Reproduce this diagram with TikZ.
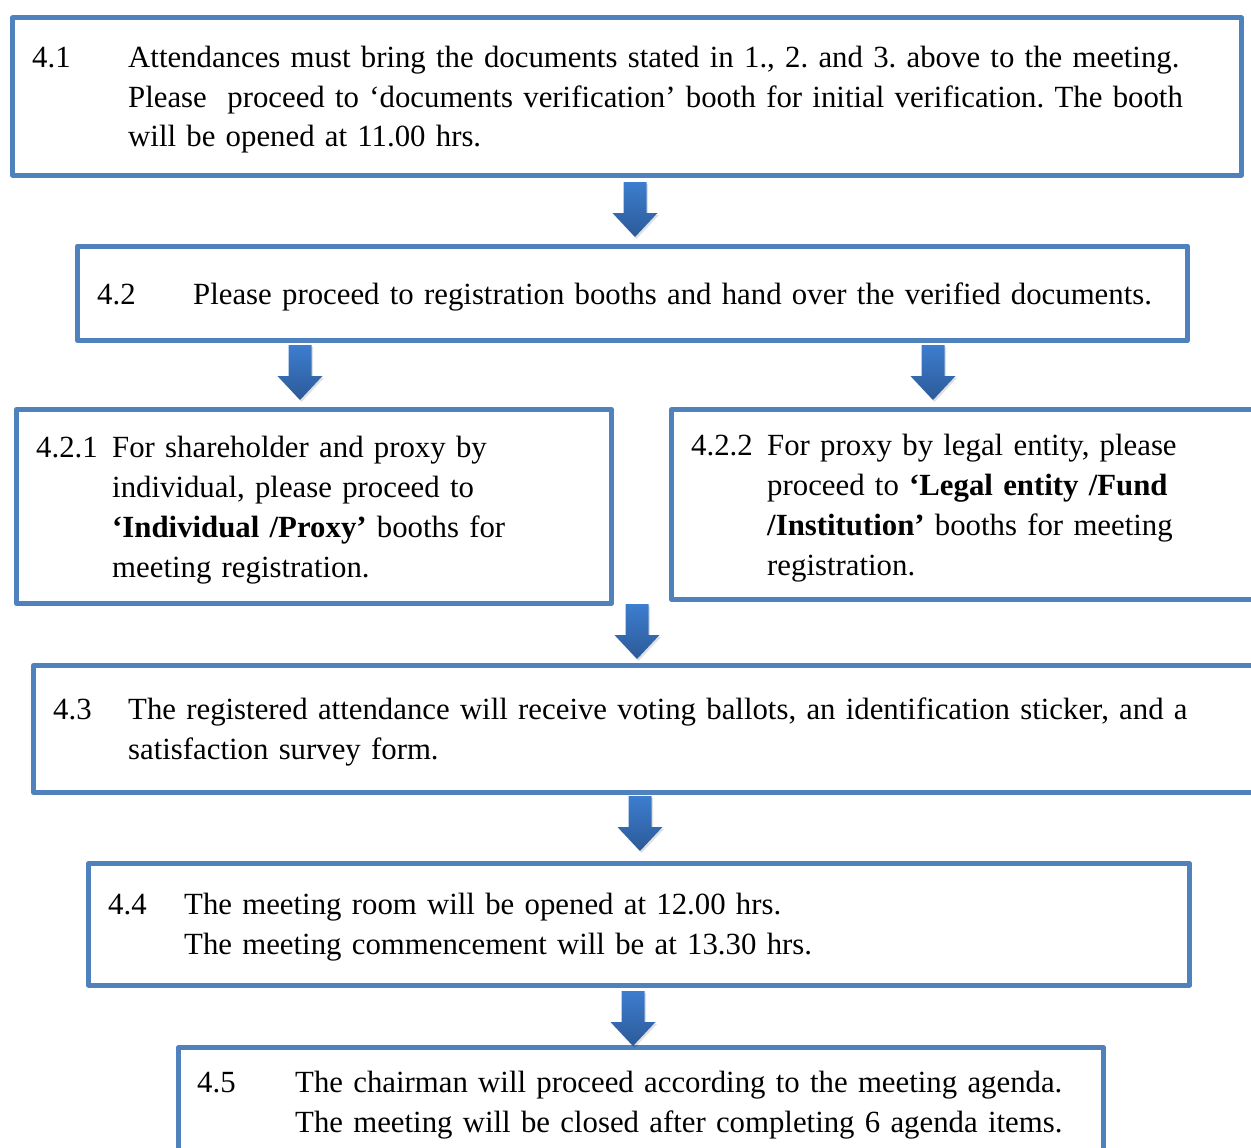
\documentclass[tikz,border=0pt]{standalone}
\usepackage{fontspec}
\setmainfont{Liberation Serif}
\frenchspacing
\definecolor{boxblue}{HTML}{4F81BD}
\definecolor{arrowlight}{HTML}{3D7DCF}
\definecolor{arrowdark}{HTML}{2C5A98}
\tikzset{
	stepbox/.style={draw=boxblue, line width=5pt, line join=round, inner sep=0pt, anchor=north west},
	numtext/.style={anchor=base west, inner sep=0pt, font=\fontsize{30.8}{40}\selectfont},
	bodytext/.style={anchor=base west, inner sep=0pt, text width=1100pt, align=left, font=\fontsize{30.8}{40}\selectfont},
}
% block arrow pointing down, top centre at (#1,#2)
\newcommand{\flowarrow}[2]{%
	\fill[black, opacity=0.12, shift={(#1+1.5,#2+2)}]
		(-11.5,0) -- (11.5,0) -- (11.5,31) -- (22.5,31) -- (0,55) -- (-22.5,31) -- (-11.5,31) -- cycle;
	\shade[top color=arrowlight, bottom color=arrowdark, shift={(#1,#2)}]
		(-11.5,0) -- (11.5,0) -- (11.5,31) -- (22.5,31) -- (0,55) -- (-22.5,31) -- (-11.5,31) -- cycle;
}
\begin{document}
\begin{tikzpicture}[x=1pt, y=-1pt]
	\useasboundingbox (0,0) rectangle (1251,1148);

	% boxes
	\node[stepbox, minimum width=1229, minimum height=157] (b41) at (10,15.5) {};
	\node[stepbox, minimum width=1110, minimum height=94.5] (b42) at (75,243.5) {};
	\node[stepbox, minimum width=595, minimum height=194] (b421) at (14,407) {};
	\node[stepbox, minimum width=593, minimum height=190] (b422) at (669,407) {};
	\node[stepbox, minimum width=1231, minimum height=127] (b43) at (31,663) {};
	\node[stepbox, minimum width=1101, minimum height=121.5] (b44) at (86,861) {};
	\node[stepbox, minimum width=925, minimum height=115] (b45) at (176,1045) {};

	% arrows
	\flowarrow{635}{182}
	\flowarrow{300}{345}
	\flowarrow{933}{345}
	\flowarrow{637}{604}
	\flowarrow{640}{796}
	\flowarrow{633}{991}

	% texts
	\node[numtext] (n41) at (32,67) {4.1};
	\node[bodytext] (t41) at (128,67) {Attendances must bring the documents stated in 1., 2. and 3. above to the meeting.\\
		Please~ proceed to ‘documents verification’ booth for initial verification. The booth\\
		will be opened at 11.00 hrs.};
	\node[numtext] (n42) at (97,304) {4.2};
	\node[bodytext] (t42) at (193,304) {Please proceed to registration booths and hand over the verified documents.};
	\node[numtext] (n421) at (36,457) {4.2.1};
	\node[bodytext] (t421) at (112,457) {For shareholder and proxy by\\
		individual, please proceed to\\
		\textbf{‘Individual /Proxy’} booths for\\
		meeting registration.};
	\node[numtext] (n422) at (691,455) {4.2.2};
	\node[bodytext] (t422) at (767,455) {For proxy by legal entity, please\\
		proceed to \textbf{‘Legal entity /Fund}\\
		\textbf{/Institution’} booths for meeting\\
		registration.};
	\node[numtext] (n43) at (53,719) {4.3};
	\node[bodytext] (t43) at (128,719) {The registered attendance will receive voting ballots, an identification sticker, and a\\
		satisfaction survey form.};
	\node[numtext] (n44) at (108,914) {4.4};
	\node[bodytext] (t44) at (184,914) {The meeting room will be opened at 12.00 hrs.\\
		The meeting commencement will be at 13.30 hrs.};
	\node[numtext] (n45) at (197,1092) {4.5};
	\node[bodytext] (t45) at (295,1092) {The chairman will proceed according to the meeting agenda.\\
		The meeting will be closed after completing 6 agenda items.};
\end{tikzpicture}
\end{document}
